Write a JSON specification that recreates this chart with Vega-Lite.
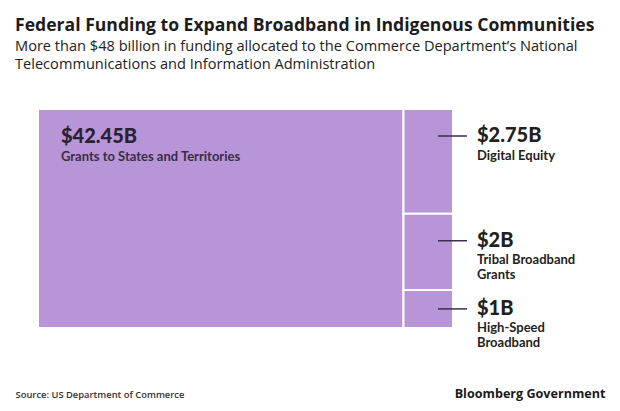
{
  "$schema": "https://vega.github.io/schema/vega-lite/v6.json",
  "width": 415,
  "height": 219,
  "autosize": {"type": "none"},
  "padding": {"left": 38, "top": 109, "right": 167, "bottom": 83},
  "background": "white",
  "config": {"view": {"stroke": null}},
  "title": {
    "text": "Federal Funding to Expand Broadband in Indigenous Communities",
    "subtitle": ["More than $48 billion in funding allocated to the Commerce Department’s National", "Telecommunications and Information Administration"],
    "anchor": "start",
    "frame": "group",
    "dx": -23,
    "offset": 36,
    "font": "Open Sans",
    "fontSize": 17.6,
    "fontWeight": "bold",
    "color": "#1c1c1c",
    "subtitleFont": "Open Sans",
    "subtitleFontSize": 14.6,
    "subtitleColor": "#222222",
    "subtitleLineHeight": 18,
    "subtitlePadding": 5
  },
  "data": {
    "values": [
      {"name": "Grants to States and Territories", "value": 42.45, "amount": "$42.45B", "col": "main", "order": 1, "label": ["Grants to States and Territories"]},
      {"name": "Digital Equity", "value": 2.75, "amount": "$2.75B", "col": "side", "order": 2, "label": ["Digital Equity"]},
      {"name": "Tribal Broadband Grants", "value": 2, "amount": "$2B", "col": "side", "order": 3, "label": ["Tribal Broadband", "Grants"]},
      {"name": "High-Speed Broadband", "value": 1, "amount": "$1B", "col": "side", "order": 4, "label": ["High-Speed", "Broadband"]}
    ]
  },
  "transform": [
    {"stack": "value", "groupby": [], "sort": [{"field": "order"}], "as": ["s0", "s1"]},
    {"joinaggregate": [{"op": "min", "field": "s0", "as": "x0"}, {"op": "max", "field": "s1", "as": "x1"}], "groupby": ["col"]},
    {"stack": "value", "groupby": ["col"], "sort": [{"field": "order"}], "offset": "normalize", "as": ["y0", "y1"]}
  ],
  "layer": [
    {
      "mark": {"type": "rect", "fill": "#b795d6", "stroke": "white", "strokeWidth": 2},
      "encoding": {
        "x": {"field": "x0", "type": "quantitative", "scale": {"nice": false, "zero": true},
          "axis": {"title": "Source: US Department of Commerce", "domain": false, "ticks": false, "labels": false, "grid": false,
            "titleX": -23, "titleY": 69, "titleAlign": "left", "titleBaseline": "alphabetic", "titleFont": "Open Sans", "titleFontSize": 9.4, "titleFontWeight": 600, "titleColor": "#333333"}},
        "x2": {"field": "x1"},
        "y": {"field": "y0", "type": "quantitative", "scale": {"domain": [0, 1], "reverse": true, "nice": false},
          "axis": {"orient": "right", "title": "Bloomberg Government", "domain": false, "ticks": false, "labels": false, "grid": false,
            "titleAngle": 0, "titleX": 152, "titleY": 288, "titleAlign": "right", "titleBaseline": "alphabetic", "titleFont": "Open Sans", "titleFontSize": 12.6, "titleFontWeight": "bold", "titleColor": "#1a1a1a"}},
        "y2": {"field": "y1"},
        "tooltip": [{"field": "name"}, {"field": "amount"}]
      }
    },
    {
      "transform": [{"filter": "datum.col == 'main'"}],
      "mark": {"type": "text", "align": "left", "baseline": "middle", "dx": 23, "yOffset": 28, "font": "Lato", "fontSize": 20, "fontWeight": 900, "color": "#2a1f33"},
      "encoding": {"x": {"field": "x0", "type": "quantitative"}, "y": {"field": "y0", "type": "quantitative"}, "text": {"field": "amount"}}
    },
    {
      "transform": [{"filter": "datum.col == 'main'"}],
      "mark": {"type": "text", "align": "left", "baseline": "alphabetic", "dx": 23, "yOffset": 28, "dy": 24, "font": "Lato", "fontSize": 13, "fontWeight": "bold", "color": "#3a2d48", "lineHeight": 15},
      "encoding": {"x": {"field": "x0", "type": "quantitative"}, "y": {"field": "y0", "type": "quantitative"}, "text": {"field": "label"}}
    },
    {
      "transform": [{"filter": "datum.col == 'side' && datum.order < 4"}],
      "mark": {"type": "rule", "xOffset": -15, "x2Offset": 14, "yOffset": 27, "color": "#3d2b52", "strokeWidth": 1.5},
      "encoding": {"x": {"field": "x1", "type": "quantitative"}, "x2": {"field": "x1"}, "y": {"field": "y0", "type": "quantitative"}}
    },
    {
      "transform": [{"filter": "datum.col == 'side' && datum.order == 4"}],
      "mark": {"type": "rule", "xOffset": -15, "x2Offset": 14, "yOffset": 19, "color": "#3d2b52", "strokeWidth": 1.5},
      "encoding": {"x": {"field": "x1", "type": "quantitative"}, "x2": {"field": "x1"}, "y": {"field": "y0", "type": "quantitative"}}
    },
    {
      "transform": [{"filter": "datum.col == 'side' && datum.order < 4"}],
      "mark": {"type": "text", "align": "left", "baseline": "middle", "dx": 24, "yOffset": 27, "font": "Lato", "fontSize": 20, "fontWeight": 900, "color": "#231f20"},
      "encoding": {"x": {"field": "x1", "type": "quantitative"}, "y": {"field": "y0", "type": "quantitative"}, "text": {"field": "amount"}}
    },
    {
      "transform": [{"filter": "datum.col == 'side' && datum.order < 4"}],
      "mark": {"type": "text", "align": "left", "baseline": "alphabetic", "dx": 24, "yOffset": 27, "dy": 23.5, "font": "Lato", "fontSize": 13, "fontWeight": "bold", "color": "#231f20", "lineHeight": 15},
      "encoding": {"x": {"field": "x1", "type": "quantitative"}, "y": {"field": "y0", "type": "quantitative"}, "text": {"field": "label"}}
    },
    {
      "transform": [{"filter": "datum.col == 'side' && datum.order == 4"}],
      "mark": {"type": "text", "align": "left", "baseline": "middle", "dx": 24, "yOffset": 19, "font": "Lato", "fontSize": 20, "fontWeight": 900, "color": "#231f20"},
      "encoding": {"x": {"field": "x1", "type": "quantitative"}, "y": {"field": "y0", "type": "quantitative"}, "text": {"field": "amount"}}
    },
    {
      "transform": [{"filter": "datum.col == 'side' && datum.order == 4"}],
      "mark": {"type": "text", "align": "left", "baseline": "alphabetic", "dx": 24, "yOffset": 19, "dy": 23.5, "font": "Lato", "fontSize": 13, "fontWeight": "bold", "color": "#231f20", "lineHeight": 15},
      "encoding": {"x": {"field": "x1", "type": "quantitative"}, "y": {"field": "y0", "type": "quantitative"}, "text": {"field": "label"}}
    }
  ]
}
